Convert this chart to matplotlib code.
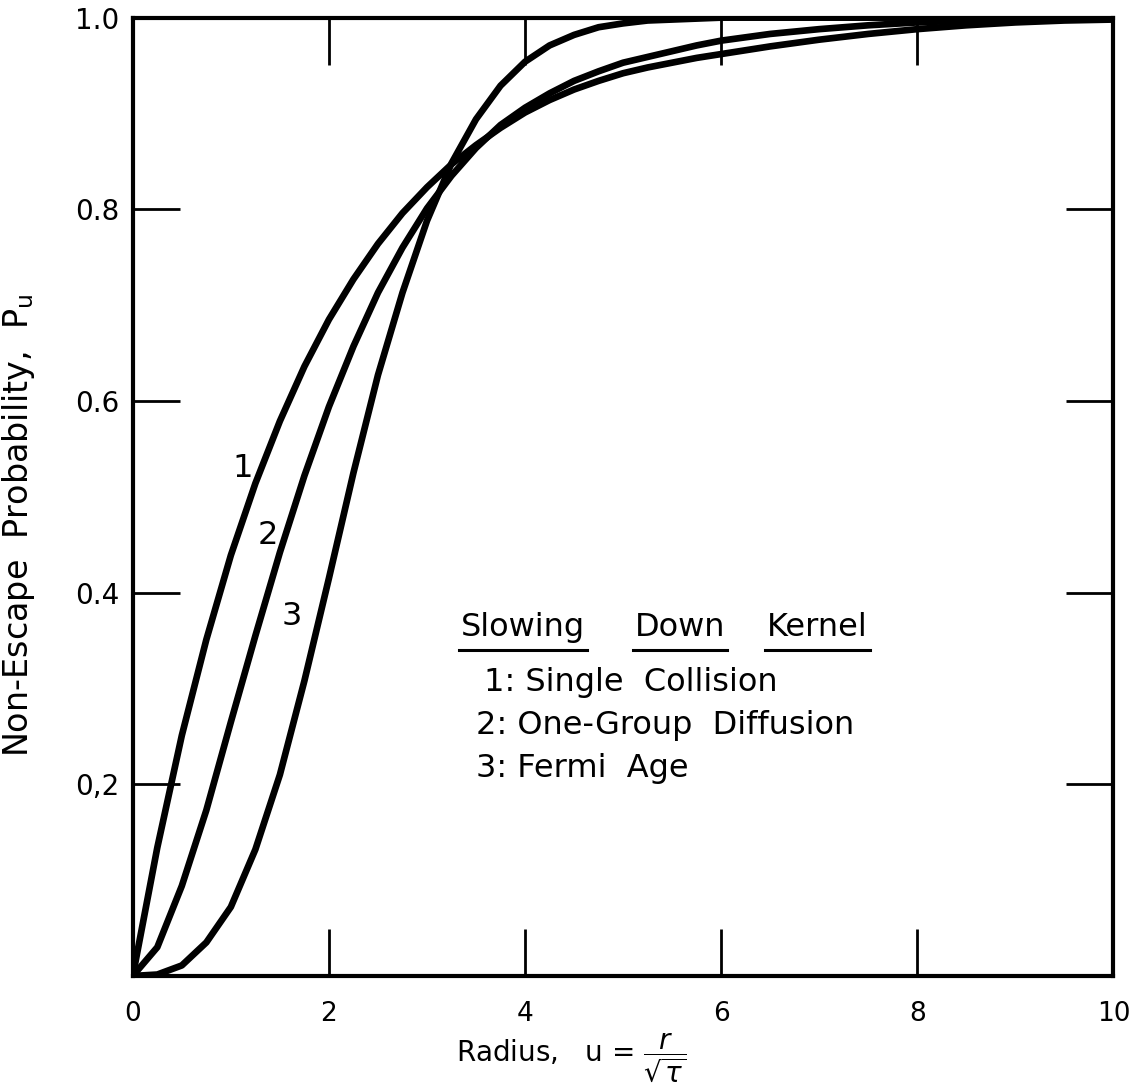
import matplotlib
matplotlib.use("Agg")
import matplotlib.pyplot as plt

# Values
u = [0, 0.25, 0.5, 0.75, 1.0, 1.25, 1.5, 1.75, 2.0, 2.25, 2.5, 2.75, 3.0, 3.25,
     3.5, 3.75, 4.0, 4.25, 4.5, 4.75, 5.0, 5.25, 5.5, 5.75, 6.0, 6.5, 7.0, 7.5,
     8.0, 8.5, 9.0, 9.5, 10.0]
single_collision = [0, 0.134, 0.251, 0.351, 0.439, 0.514, 0.579, 0.636, 0.685,
                    0.727, 0.764, 0.796, 0.823, 0.847, 0.867, 0.885, 0.901, 0.914,
                    0.925, 0.934, 0.942, 0.948, 0.953, 0.958, 0.962, 0.970, 0.977,
                    0.983, 0.988, 0.992, 0.995, 0.997, 0.998]
one_group = [0, 0.030, 0.094, 0.173, 0.265, 0.355, 0.442, 0.522, 0.594, 0.657,
             0.713, 0.760, 0.801, 0.835, 0.864, 0.888, 0.906, 0.921, 0.934, 0.944,
             0.953, 0.959, 0.965, 0.971, 0.976, 0.983, 0.988, 0.992, 0.995, 0.997,
             0.998, 0.999, 1.0]
fermi_age = [0, 0.0015, 0.011, 0.035, 0.072, 0.132, 0.210, 0.308, 0.415, 0.525,
             0.627, 0.713, 0.788, 0.848, 0.894, 0.929, 0.954, 0.971, 0.982, 0.990,
             0.994, 0.997, 0.998, 0.999, 1.0, 1.0, 1.0, 1.0, 1.0, 1.0, 1.0, 1.0, 1.0]

xticks = [0, 2, 4, 6, 8, 10]
xtick_labels = ["0", "2", "4", "6", "8", "10"]
yticks = [0.2, 0.4, 0.6, 0.8, 1.0]
ytick_labels = ["0,2", "0.4", "0.6", "0.8", "1.0"]

legend_title = ["Slowing", "Down", "Kernel"]
legend_lines = ["1: Single  Collision", "2: One-Group  Diffusion", "3: Fermi  Age"]
curve_labels = ["1", "2", "3"]

fig = plt.figure(figsize=(11.35, 10.89), dpi=100)
ax = fig.add_axes([0.117, 0.1038, 0.864, 0.880])

lw = 4.8
for series in (single_collision, one_group, fermi_age):
    ax.plot(u, series, color="black", lw=lw, solid_capstyle="round",
            solid_joinstyle="round", clip_on=True)

ax.set_xlim(0, 10)
ax.set_ylim(0, 1)

for s in ax.spines.values():
    s.set_linewidth(3)

ax.set_xticks(xticks)
ax.set_xticklabels(xtick_labels)
ax.set_yticks(yticks)
ax.set_yticklabels(ytick_labels)
ax.tick_params(axis="both", direction="in", length=34, width=2.0,
               top=True, right=True)
ax.tick_params(axis="x", pad=18, labelsize=19)
ax.tick_params(axis="y", pad=10, labelsize=20)
# hide tick marks at the frame corners
for t in ax.xaxis.get_major_ticks():
    if t.get_loc() in (0, 10):
        t.tick1line.set_visible(False)
        t.tick2line.set_visible(False)
for t in ax.yaxis.get_major_ticks():
    if t.get_loc() >= 1.0:
        t.tick1line.set_visible(False)
        t.tick2line.set_visible(False)

ax.set_xlabel(r"Radius,   u = $\dfrac{r}{\sqrt{\tau}}$", fontsize=20)
ax.xaxis.set_label_coords(0.447, -0.058)
ax.xaxis.label.set_va("top")
ax.set_ylabel(r"Non-Escape  Probability,  P$_{\rm u}$", fontsize=24)
ax.yaxis.set_label_coords(-0.098, 0.47)

# curve labels
ax.text(1.12, 0.53, curve_labels[0], fontsize=23, ha="center", va="center")
ax.text(1.38, 0.46, curve_labels[1], fontsize=23, ha="center", va="center")
ax.text(1.62, 0.375, curve_labels[2], fontsize=23, ha="center", va="center")

# legend block
title_x = [3.35, 5.12, 6.47]
fig.canvas.draw()
renderer = fig.canvas.get_renderer()
inv = ax.transData.inverted()
for word, xw in zip(legend_title, title_x):
    t = ax.text(xw, 0.355, word, fontsize=23, ha="left", va="baseline")
    bb = t.get_window_extent(renderer=renderer)
    (x0, _), (x1, _) = inv.transform([[bb.x0, bb.y0], [bb.x1, bb.y0]])
    ax.plot([x0 - 0.02, x1 + 0.02], [0.340, 0.340], color="black", lw=2.2)

for i, line in enumerate(legend_lines):
    ax.text(3.58 if i == 0 else 3.5, 0.297 - i * 0.0445, line, fontsize=23,
            ha="left", va="baseline")

fig.savefig("out.png", dpi=100)
